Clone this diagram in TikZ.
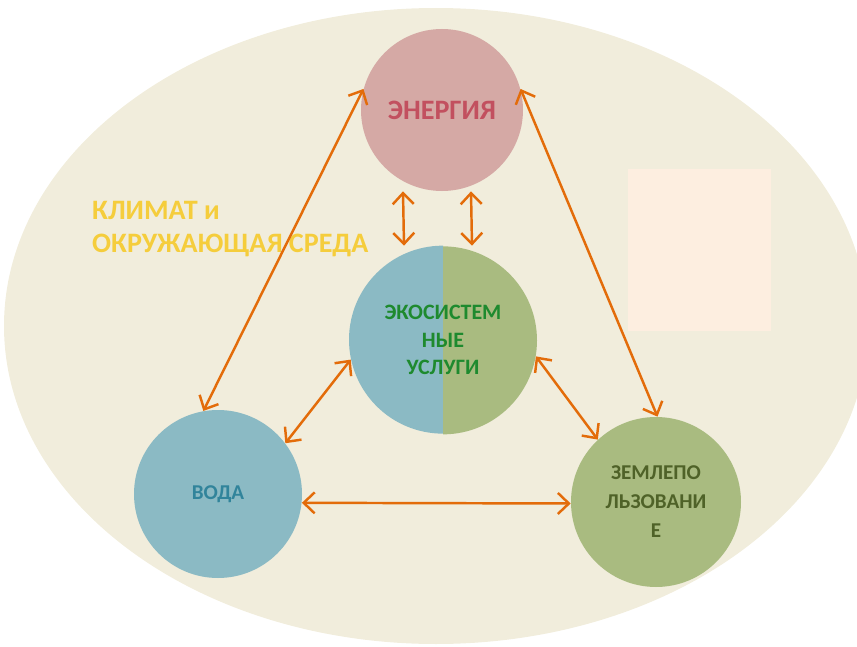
\documentclass[tikz,border=0pt]{standalone}
\usepackage{fontspec}
\setmainfont{Carlito}
\usepackage{tikz}
\usetikzlibrary{calc,arrows.meta,positioning}

\definecolor{ellipsebg}{HTML}{F1EDDC}
\definecolor{energyfill}{HTML}{D5A9A5}
\definecolor{energytext}{HTML}{C2505F}
\definecolor{waterfill}{HTML}{8BBAC4}
\definecolor{watertext}{HTML}{31849B}
\definecolor{landfill}{HTML}{A9BB80}
\definecolor{landtext}{HTML}{4F6228}
\definecolor{ecotext}{HTML}{1E8A2E}
\definecolor{arrowc}{HTML}{E36C0A}
\definecolor{climate}{HTML}{F5CD3C}
\definecolor{boxfill}{HTML}{FDEEE0}

\tikzset{
	topic/.style={circle, inner sep=0pt, align=center, font=\bfseries},
	link/.style={arrowc, line width=1.4pt, {Straight Barb[length=2.2mm,width=4.2mm]}-{Straight Barb[length=2.2mm,width=4.2mm]}}
}

\begin{document}
\begin{tikzpicture}
			\useasboundingbox (0,0) rectangle (17.14,12.92);
			% Background
			\fill[ellipsebg] (8.72,6.40) ellipse (8.64 and 6.36);
			\fill[boxfill] (12.56,6.30) rectangle (15.42,9.54);
			\node[anchor=west, align=left, text=climate, font=\bfseries\fontsize{16}{18.5}\selectfont] (climate) at (1.72,8.34) {КЛИМАТ и\\ОКРУЖАЮЩАЯ СРЕДА};

			% Circles
			\node[topic, fill=energyfill, minimum size=3.24cm, text=energytext, font=\bfseries\fontsize{16}{18}\selectfont] (energy) at (8.84,10.72) {ЭНЕРГИЯ};
			\node[topic, minimum size=3.76cm] (eco) at (8.86,6.12) {};
			\fill[waterfill] (eco.north) arc[start angle=90, end angle=270, radius=1.88cm] -- cycle;
			\fill[landfill] (eco.south) arc[start angle=-90, end angle=90, radius=1.88cm] -- cycle;
			\node[align=center, text=ecotext, font=\bfseries\fontsize{12.5}{15.5}\selectfont] at (eco.center) {ЭКОСИСТЕМ\\НЫЕ\\УСЛУГИ};
			\node[topic, fill=waterfill, minimum size=3.36cm, text=watertext, font=\bfseries\fontsize{12}{14}\selectfont] (water) at (4.36,3.04) {ВОДА};
			\node[topic, fill=landfill, minimum size=3.40cm, text=landtext, font=\bfseries\fontsize{12}{16.5}\selectfont] (land) at (13.12,2.88) {ЗЕМЛЕПО\\ЛЬЗОВАНИ\\Е};

			% Links
			\draw[link] (energy.165) -- (water.100);
			\draw[link] (energy.15) -- (land.89);
			\draw[link] ([xshift=-0.78cm]energy.south) -- ([xshift=-0.78cm]eco.north);
			\draw[link] ([xshift=0.58cm]energy.south) -- ([xshift=0.58cm]eco.north);
			\draw[link] (eco.192) -- (water.37);
			\draw[link] (eco.350) -- (land.133);
			\draw[link] (water.354) -- (land.181);
		\end{tikzpicture}
\end{document}
